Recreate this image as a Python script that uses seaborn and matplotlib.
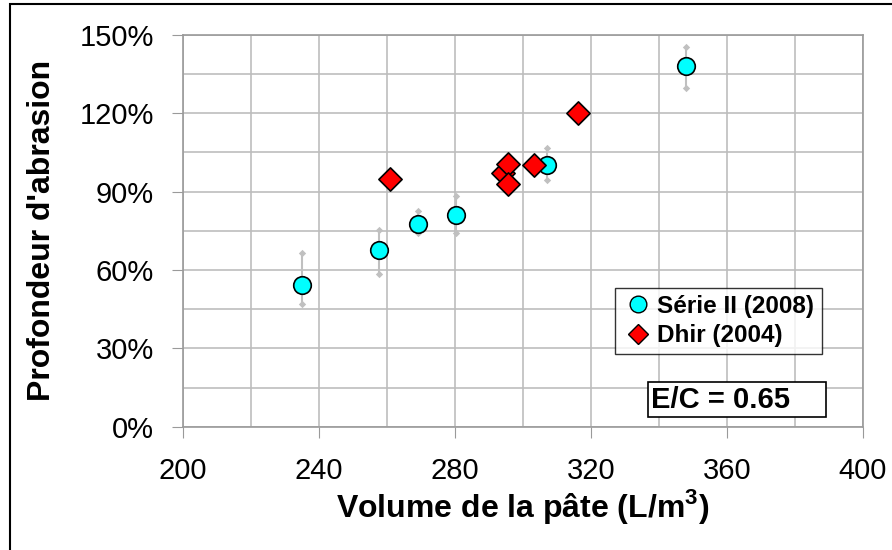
import seaborn as sns
import matplotlib.pyplot as plt
import matplotlib.patches as mpatches
import pandas as pd

# Série II (2008)
serie_x = [235, 257.6, 269.2, 280.2, 307, 348]
serie_y = [54.3, 67.5, 77.6, 81.0, 100.4, 138.0]
serie_hi = [66.6, 75.5, 82.5, 88.4, 106.7, 145.3]
serie_lo = [47.0, 58.4, 74.0, 74.0, 94.4, 129.7]

# Dhir (2004)
dhir_x = [260.9, 294.2, 295.7, 295.7, 303.3, 316.3]
dhir_y = [94.8, 97.2, 100.5, 93.1, 100.4, 120.1]

df1 = pd.DataFrame({'x': serie_x, 'y': serie_y})
df2 = pd.DataFrame({'x': dhir_x, 'y': dhir_y})

sns.set_style("white")
plt.rcParams['font.family'] = ['Liberation Sans', 'DejaVu Sans']
plt.rcParams['text.color'] = 'black'
plt.rcParams['axes.labelcolor'] = 'black'
plt.rcParams['xtick.color'] = 'black'
plt.rcParams['ytick.color'] = 'black'

fig = plt.figure(figsize=(8.92, 5.5), dpi=100)
ax = fig.add_axes([0.205, 0.224, 0.7625, 0.7125])

# error bars
ax.vlines(serie_x, serie_lo, serie_hi, color='#c0c0c0', lw=1.5, zorder=2)
ax.scatter(serie_x + serie_x, serie_lo + serie_hi, marker='D', s=14,
           color='#c0c0c0', zorder=2, linewidths=0)

sns.scatterplot(x='x', y='y', data=df1, marker='o', s=160, color='#00ffff',
                edgecolor='black', linewidth=1.2, ax=ax, zorder=3)
sns.scatterplot(x='x', y='y', data=df2, marker='D', s=140, color='#ff0000',
                edgecolor='black', linewidth=1.2, ax=ax, zorder=4)

ax.set_xlim(200, 400)
ax.set_ylim(0, 150)
ax.set_xticks(range(200, 401, 40))
ax.set_xticks(range(200, 401, 20), minor=True)
ax.set_yticks(range(0, 151, 30))
ax.set_yticks(range(0, 151, 15), minor=True)
ax.set_yticklabels([f"{v}%" for v in range(0, 151, 30)])
ax.grid(True, which='both', color='#bdbdbd', lw=1.2)
ax.set_axisbelow(True)
for s in ax.spines.values():
    s.set_color('#9a9a9a')
    s.set_linewidth(1.2)
ax.tick_params(axis='both', which='major', labelsize=21, length=8,
               color='#9a9a9a', labelcolor='black', direction='out',
               bottom=True, left=True)
ax.tick_params(axis='y', pad=13)
ax.tick_params(axis='x', pad=14)

ax.set_xlabel("Volume de la pâte (L/m$^\\mathregular{3}$)", fontsize=23,
              fontweight='bold', labelpad=1)
ax.set_ylabel("Profondeur d'abrasion", fontsize=23, fontweight='bold',
              labelpad=16)

h1 = plt.Line2D([], [], marker='o', ls='', markersize=12, markerfacecolor='#00ffff',
                markeredgecolor='black', label='Série II (2008)')
h2 = plt.Line2D([], [], marker='D', ls='', markersize=10, markerfacecolor='#ff0000',
                markeredgecolor='black', label='Dhir (2004)')
leg = ax.legend(handles=[h1, h2], loc='upper left', bbox_to_anchor=(0.635, 0.355),
                prop={'weight': 'bold', 'size': 17.5}, frameon=True, fancybox=False,
                handletextpad=0.15, handlelength=1.3, borderpad=0.3,
                labelspacing=0.25, borderaxespad=0)
leg.get_frame().set_edgecolor('black')
leg.get_frame().set_linewidth(1.0)

ax.text(0.689, 0.048, "E/C = 0.65    ", transform=ax.transAxes, fontsize=21,
        fontweight='bold', bbox=dict(boxstyle='square,pad=0.12', fc='white',
                                     ec='black', lw=1.2))

fig.patches.append(mpatches.Rectangle((0.011, -0.02), 1.1, 1.012, transform=fig.transFigure,
                                      fill=False, ec='black', lw=1.5))

fig.savefig('out.png', dpi=100)
